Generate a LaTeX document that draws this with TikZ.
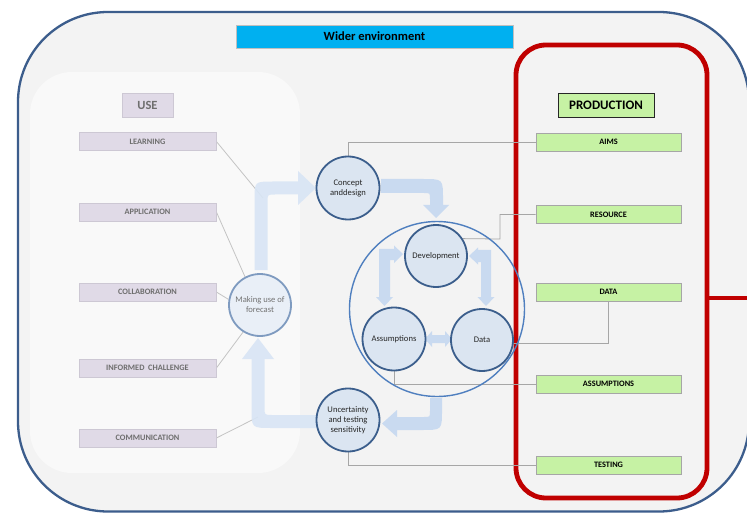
\documentclass[tikz,border=0pt]{standalone}
\usepackage{fontspec}
\setmainfont{Carlito}
\pgfdeclarelayer{bottom}
\pgfdeclarelayer{links}
\pgfsetlayers{bottom,links,main}
\definecolor{framebl}{HTML}{3C5D8C}
\definecolor{envbg}{HTML}{F3F3F3}
\definecolor{panelbg}{HTML}{F9F9F9}
\definecolor{banner}{HTML}{00B0F0}
\definecolor{usefill}{HTML}{E0DAE7}
\definecolor{usedraw}{HTML}{CDC8D4}
\definecolor{usetext}{HTML}{6E6E6E}
\definecolor{prodfill}{HTML}{C6F2A4}
\definecolor{prodred}{HTML}{C00000}
\definecolor{circfill}{HTML}{DBE5F1}
\definecolor{circdraw}{HTML}{3B5E8C}
\definecolor{softfill}{HTML}{E9EFF7}
\definecolor{softdraw}{HTML}{7F9BC0}
\definecolor{ringblue}{HTML}{4F7FBF}
\definecolor{arrowblue}{HTML}{C5D8F0}
\definecolor{arrowpale}{HTML}{D8E5F5}
\definecolor{linkgrey}{HTML}{A6A6A6}
\definecolor{linkpale}{HTML}{C4C4C4}
\begin{document}
\begin{tikzpicture}[x=1pt,y=-1pt,
  usebox/.style={draw=usedraw,fill=usefill,line width=0.8pt,minimum width=137pt,minimum height=18pt,inner sep=0pt,
    font=\fontsize{8.3}{10}\selectfont\bfseries,text=usetext},
  prodbox/.style={draw=linkgrey,fill=prodfill,line width=0.8pt,minimum width=145pt,minimum height=18pt,inner sep=0pt,
    font=\fontsize{8.3}{10}\selectfont\bfseries,text=black},
  stage/.style={circle,draw=circdraw,fill=circfill,line width=1.8pt,minimum size=63pt,inner sep=0pt,align=center,
    font=\fontsize{8.6}{10}\selectfont,text=black!85},
  softstage/.style={circle,draw=softdraw,fill=softfill,line width=1.8pt,minimum size=62pt,inner sep=0pt,align=center,
    font=\fontsize{8.6}{10}\selectfont,text=black!55},
  bigarrow/.style={fill=arrowblue,fill opacity=0.9},
  palearrow/.style={fill=arrowpale,fill opacity=0.9},
  link/.style={draw=linkgrey,line width=0.8pt},
  palelink/.style={draw=linkpale,line width=0.8pt}]
\useasboundingbox (0,0) rectangle (747,513);

\begin{pgfonlayer}{bottom}
\fill[white] (0,0) rectangle (747,513);
% wider environment frame
\draw[framebl,fill=envbg,line width=2.3pt,rounded corners=90pt] (18,12) rectangle (749,511.5);
% use panel
\fill[panelbg,rounded corners=42pt] (30,72) rectangle (300,473);
% production frame
\draw[prodred,line width=4.8pt,rounded corners=30pt] (516,45) rectangle (707,498);
\end{pgfonlayer}

\node[fill=banner,draw=black!25,line width=0.5pt,minimum width=277pt,minimum height=23pt,inner sep=0pt,
  font=\fontsize{12.5}{14}\selectfont\bfseries] (wider) at (374.5,36.5) {Wider environment};

\coordinate (prodlink) at (707,298);
\coordinate (prodout) at (750,298);
\draw[prodred,line width=4.8pt] (prodlink) -- (prodout);

% use side
\node[fill=usefill,draw=usedraw,line width=0.8pt,minimum width=51pt,minimum height=24pt,inner sep=0pt,
  font=\fontsize{12.5}{14}\selectfont\bfseries,text=usetext] (use) at (147.5,105) {USE};
\node[usebox] (learning) at (147.5,141.5) {LEARNING};
\node[usebox] (application) at (147.5,212) {APPLICATION};
\node[usebox] (collab) at (147.5,292) {COLLABORATION};
\node[usebox] (informed) at (147.5,368) {INFORMED\ \ CHALLENGE};
\node[usebox] (comm) at (147.5,438) {COMMUNICATION};

% production side
\node[fill=prodfill,draw=black!85,line width=0.8pt,minimum width=96pt,minimum height=24pt,inner sep=0pt,
  font=\fontsize{13}{15}\selectfont\bfseries] (production) at (606,105) {PRODUCTION};
\node[prodbox] (aims) at (608.5,142) {AIMS};
\node[prodbox] (resource) at (608.5,214.5) {RESOURCE};
\node[prodbox] (databox) at (608.5,292) {DATA};
\node[prodbox] (assumbox) at (608.5,384) {ASSUMPTIONS};
\node[prodbox] (testing) at (608.5,465) {TESTING};

% stage circles
\node[stage] (concept) at (348,188) {Concept\\anddesign};
\node[stage,minimum size=62pt] (dev) at (436,256) {Development};
\node[stage] (assum) at (394,339) {Assumptions};
\node[stage,minimum size=62pt] (data) at (482,340) {Data};
\node[stage] (unc) at (348,420) {Uncertainty\\and testing\\sensitivity};
\node[softstage] (mu) at (260,305) {Making use of\\forecast};
\node[circle,draw=ringblue,line width=1.4pt,minimum size=175pt,inner sep=0pt] (ring) at (437,309) {};

\begin{pgfonlayer}{links}
\coordinate (learnend) at (263,198);
\coordinate (commend) at (258,417);
\coordinate (resbend) at (500,239);
\draw[palelink] (learning.east) -- (learnend);
\draw[palelink] (application.east) -- (mu.118);
\draw[palelink] (collab.east) -- (mu.170);
\draw[palelink] (informed.east) -- (mu.238);
\draw[palelink] (comm.east) -- (commend);
\draw[link] (aims.west) -| (concept.north);
\draw[link] (resource.west) -| (resbend) -- (dev.33);
\draw[link] (databox.south) |- (data.-6);
\draw[link] (assumbox.west) -| (assum.south);
\draw[link] (testing.west) -| (unc.south);

% flow arrows around the cycle
\fill[palearrow] (254.5,270) -- (254.5,200) .. controls (254.5,181.5) .. (273,181.5) -- (298,181.5) -- (298,171)
  -- (316,188) -- (298,205) -- (298,194.5) -- (275,194.5) .. controls (267.5,194.5) .. (267.5,202) -- (267.5,270) -- cycle;
\fill[palearrow] (318,415) -- (272,415) .. controls (264.5,415) .. (264.5,407) -- (264.5,359) -- (274,359) -- (258,338)
  -- (242,359) -- (251.5,359) -- (251.5,408) .. controls (251.5,428) .. (271.5,428) -- (318,428) -- cycle;
\fill[bigarrow] (381,179) -- (423,179) .. controls (443,179) .. (443,199) -- (443,205) -- (449,205) -- (436,218)
  -- (423,205) -- (430,205) -- (430,199) .. controls (430,193) .. (424,193) -- (381,193) -- cycle;
\fill[bigarrow] (430,398) -- (430,411) .. controls (430,417) .. (424,417) -- (397,417) -- (397,410) -- (382,423.5)
  -- (397,437) -- (397,430) -- (422,430) .. controls (442,430) .. (442,410) -- (442,398) -- cycle;
% arrows inside the ring
\fill[bigarrow] (403,254) -- (394,245.5) -- (394,249) -- (379,249) -- (379,297) -- (376,297) -- (384.5,306)
  -- (393,297) -- (390,297) -- (390,260) -- (394,260) -- (394,263) -- cycle;
\fill[bigarrow] (469,256) -- (478,247.5) -- (478,250) -- (491,250) -- (491,297) -- (494.5,297) -- (486,306)
  -- (477.5,297) -- (481,297) -- (481,262) -- (478,262) -- (478,264.5) -- cycle;
\fill[bigarrow] (425,339) -- (432,331) -- (432,335) -- (445,335) -- (445,331) -- (452,339) -- (445,347)
  -- (445,343) -- (432,343) -- (432,347) -- cycle;
\end{pgfonlayer}
\end{tikzpicture}
\end{document}
